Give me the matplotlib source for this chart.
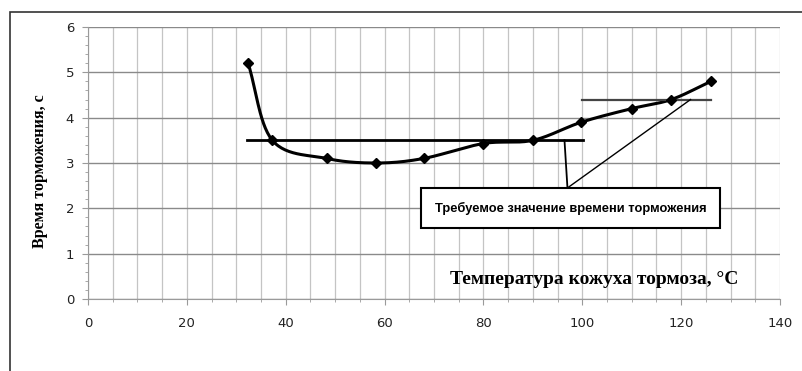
import numpy as np
import matplotlib
matplotlib.use("Agg")
import matplotlib.pyplot as plt
from matplotlib.ticker import MultipleLocator
from matplotlib.patches import Rectangle

# температура кожуха тормоза, °C и время торможения, с
temp = [32.4, 37.3, 48.3, 58.3, 67.9, 80.0, 90.0, 99.8, 110.0, 118.0, 126.0]
t_brake = [5.2, 3.5, 3.1, 3.0, 3.1, 3.43, 3.5, 3.9, 4.2, 4.4, 4.8]

# требуемые значения (две горизонтальные линии)
req1_x = [32.2, 100.2]
req1_y = [3.5, 3.5]
req2_x = [100.0, 126.0]
req2_y = [4.4, 4.4]

note = "Требуемое значение времени торможения"
xlabel = "Температура кожуха тормоза, °С"
ylabel = "Время торможения, с"


def smooth(x, y, n=30):
    # Catmull-Rom, как сглаженная линия в Excel
    x = np.asarray(x, float)
    y = np.asarray(y, float)
    px = np.concatenate([[2 * x[0] - x[1]], x, [2 * x[-1] - x[-2]]])
    py = np.concatenate([[2 * y[0] - y[1]], y, [2 * y[-1] - y[-2]]])
    ox, oy = [], []
    t = np.linspace(0, 1, n)
    for i in range(1, len(px) - 2):
        for p, o in ((px, ox), (py, oy)):
            p0, p1, p2, p3 = p[i - 1], p[i], p[i + 1], p[i + 2]
            o.extend(0.5 * ((2 * p1) + (-p0 + p2) * t
                            + (2 * p0 - 5 * p1 + 4 * p2 - p3) * t ** 2
                            + (-p0 + 3 * p1 - 3 * p2 + p3) * t ** 3))
    return np.array(ox), np.array(oy)


fig = plt.figure(figsize=(8.03, 3.71), dpi=100)
fig.patches.append(Rectangle((10 / 803, -0.01), 1.0, 1 - 12 / 371 + 0.01,
                             transform=fig.transFigure, fill=False,
                             edgecolor="#333333", linewidth=1.2))
ax = fig.add_axes([88 / 803, 1 - 299 / 371, (780 - 88) / 803, (299 - 27) / 371])

ax.set_xlim(0, 140)
ax.set_ylim(0, 6)
ax.xaxis.set_major_locator(MultipleLocator(20))
ax.xaxis.set_minor_locator(MultipleLocator(5))
ax.yaxis.set_major_locator(MultipleLocator(1))
ax.yaxis.set_minor_locator(MultipleLocator(0.2))
ax.grid(True, which="major", axis="y", color="#8a8a8a", linewidth=1.0)
ax.grid(True, which="both", axis="x", color="#c4c4c4", linewidth=0.9)
for s in ["top", "right"]:
    ax.spines[s].set_visible(False)
for s in ["left", "bottom"]:
    ax.spines[s].set_color("#9a9a9a")
ax.tick_params(which="major", length=4, color="#9a9a9a", labelsize=9.5, pad=9,
               labelcolor="#222222")
ax.tick_params(which="minor", length=2, color="#9a9a9a")
ax.tick_params(axis="y", pad=6)
ax.set_axisbelow(True)

sx, sy = smooth(temp, t_brake)
ax.plot(sx, sy, color="black", linewidth=2.2, zorder=3)
ax.plot(temp, t_brake, linestyle="none", marker="D", markersize=5.5,
        color="black", zorder=4)
ax.plot(req1_x, req1_y, color="black", linewidth=2.0, zorder=3)
ax.plot(req2_x, req2_y, color="#444444", linewidth=1.6, zorder=3)

# выноска
box_x, box_y = 97.6, 2.0
ax.text(box_x, box_y, note, ha="center", va="center", fontsize=9.3,
        family="Liberation Sans", fontweight="bold", zorder=5,
        bbox=dict(boxstyle="square,pad=1.05", facecolor="white",
                  edgecolor="black", linewidth=1.5))
ax.plot([97.0, 96.4], [2.45, req1_y[0]], color="black", linewidth=1.3, zorder=4)
ax.plot([97.0, 121.9], [2.45, req2_y[0]], color="black", linewidth=1.0, zorder=4)

ax.text(102.4, 0.42, xlabel, ha="center", va="center", fontsize=14,
        family="Liberation Serif", fontweight="bold", zorder=5)
fig.text(40 / 803, 1 - 171 / 371, ylabel, rotation=90, ha="center",
         va="center", fontsize=11.5, family="Liberation Serif", fontweight="bold")

fig.savefig("out.png", dpi=100)
